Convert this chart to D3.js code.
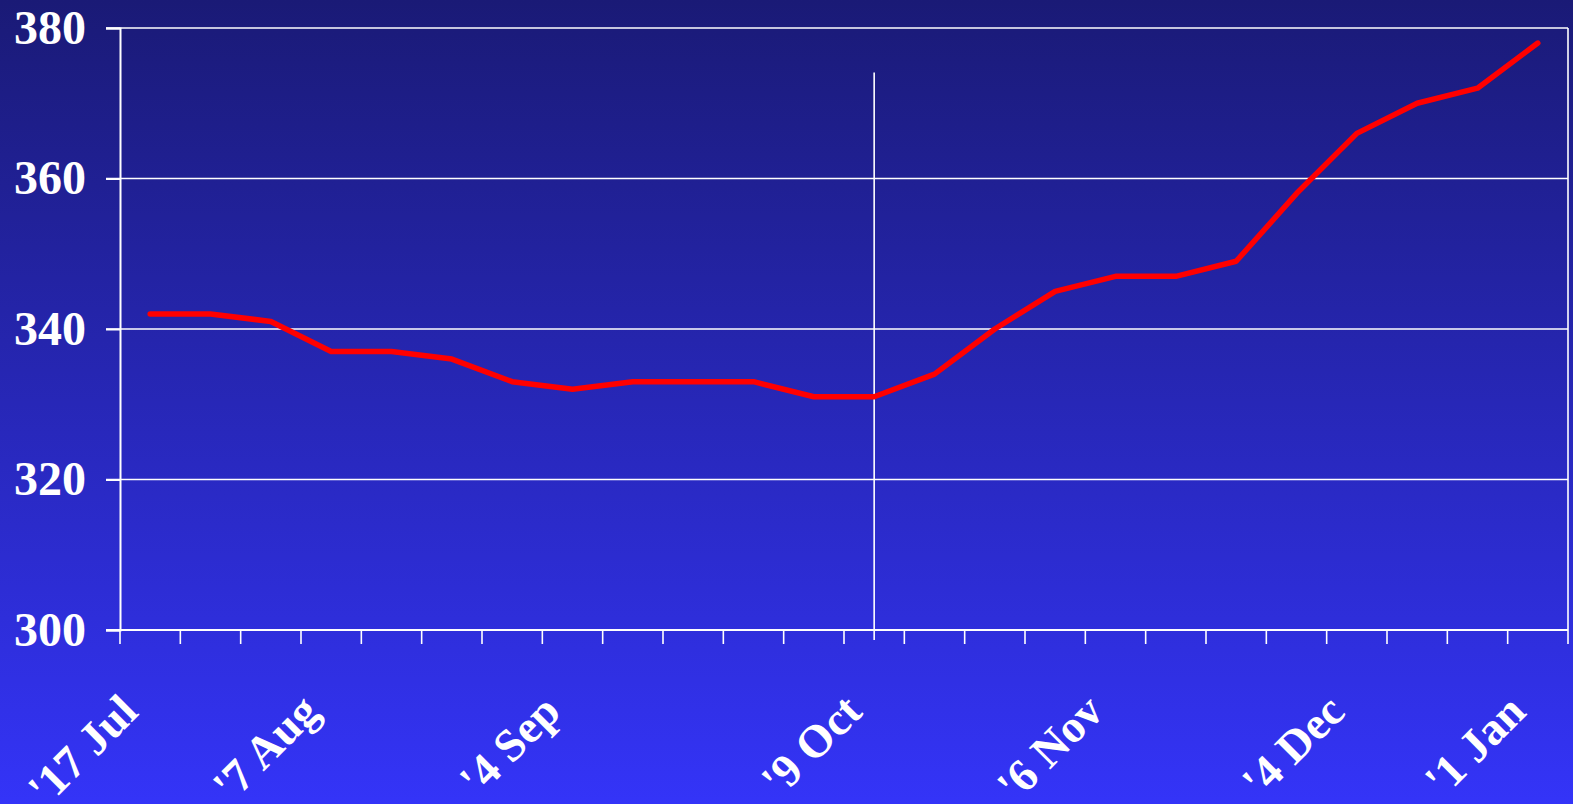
<!DOCTYPE html>
<html>
<head>
<meta charset="utf-8">
<script src="https://cdn.jsdelivr.net/npm/d3@7"></script>
<style>
html,body{margin:0;padding:0;background:#2a2ab0;}
svg{display:block;}
text{font-family:"Liberation Serif","Times New Roman",serif;font-weight:bold;fill:#fff;}
</style>
</head>
<body>
<svg id="chart" width="1573" height="804"></svg>
<script>
// ---- data ----
const weeks = d3.range(24); // 24 weekly observations
const values = [342, 342, 341, 337, 337, 336, 333, 332, 333, 333, 333, 331,
                331, 334, 340, 345, 347, 347, 349, 358, 366, 370, 372, 378];
const tickLabelIndex = [0, 3, 7, 12, 16, 20, 23];
const tickLabelText = ["'17 Jul", "'7 Aug", "'4 Sep", "'9 Oct", "'6 Nov", "'4 Dec", "'1 Jan"];
const yTicks = [300, 320, 340, 360, 380];
const markerIndex = 12;
const markerTop = 374.1;

// ---- layout ----
const W = 1573, H = 804;
const pLeft = 120, pRight = 1568, pTop = 28, pBottom = 630;
const svg = d3.select("#chart");

const defs = svg.append("defs");
const grad = defs.append("linearGradient").attr("id", "bg")
  .attr("x1", 0).attr("y1", 0).attr("x2", 0).attr("y2", 1);
grad.append("stop").attr("offset", "0%").attr("stop-color", "#1a1a76");
grad.append("stop").attr("offset", "100%").attr("stop-color", "#3434f8");
svg.append("rect").attr("width", W).attr("height", H).attr("fill", "url(#bg)");

const x = d3.scaleBand().domain(weeks).range([pLeft, pRight]);
const y = d3.scaleLinear().domain([300, 380]).range([pBottom, pTop]);
const cx = i => x(i) + x.bandwidth() / 2;

// gridlines
svg.append("g").selectAll("line").data(yTicks.filter(v => v > 300)).join("line")
  .attr("x1", pLeft - 14).attr("x2", pRight)
  .attr("y1", d => y(d)).attr("y2", d => y(d))
  .attr("stroke", "#fff").attr("stroke-width", 1.6);

// y axis
const yAxis = d3.axisLeft(y).tickValues(yTicks).tickSize(14).tickPadding(20);
const gy = svg.append("g").attr("transform", `translate(${pLeft},0)`).call(yAxis);
gy.select(".domain").attr("stroke", "#fff").attr("stroke-width", 2);
gy.selectAll(".tick line").attr("stroke", "#fff").attr("stroke-width", 2);
gy.selectAll(".tick text").attr("font-size", 48).attr("fill", "#fff")
  .attr("font-family", "Liberation Serif").attr("font-weight", "bold");

// right border
svg.append("line").attr("x1", pRight).attr("x2", pRight).attr("y1", pTop).attr("y2", pBottom)
  .attr("stroke", "#fff").attr("stroke-width", 1.6);

// x axis
const bounds = d3.range(25).map(i => pLeft + i * x.step());
const gx = svg.append("g");
gx.append("line").attr("x1", pLeft - 14).attr("x2", pRight).attr("y1", pBottom).attr("y2", pBottom)
  .attr("stroke", "#fff").attr("stroke-width", 2.2);
gx.selectAll("line.tk").data(bounds).join("line").attr("class", "tk")
  .attr("x1", d => d).attr("x2", d => d).attr("y1", pBottom).attr("y2", pBottom + 14)
  .attr("stroke", "#fff").attr("stroke-width", 1.6);

// x labels
svg.append("g").selectAll("text").data(tickLabelIndex).join("text")
  .attr("transform", (d) => `translate(${cx(d) - 10},${714}) rotate(-45)`)
  .attr("text-anchor", "end")
  .attr("font-size", 46)
  .text((d, i) => tickLabelText[i]);

// marker line
svg.append("line")
  .attr("x1", cx(markerIndex)).attr("x2", cx(markerIndex))
  .attr("y1", y(markerTop)).attr("y2", pBottom + 10)
  .attr("stroke", "#fff").attr("stroke-width", 1.6);

// data line
const line = d3.line().x((d, i) => cx(i)).y(d => y(d));
svg.append("path").datum(values).attr("d", line)
  .attr("fill", "none").attr("stroke", "#ff0000").attr("stroke-width", 5.5)
  .attr("stroke-linejoin", "round").attr("stroke-linecap", "round");
</script>
</body>
</html>
